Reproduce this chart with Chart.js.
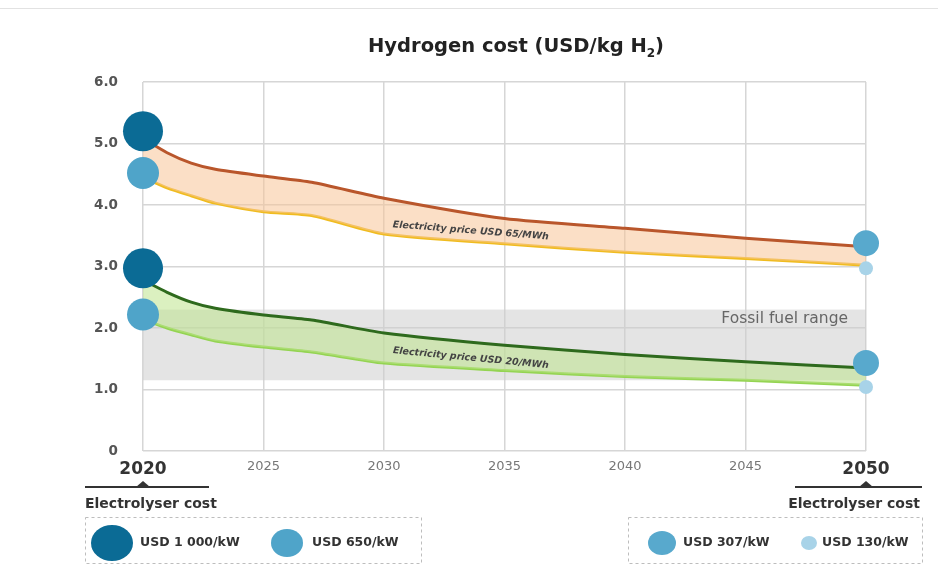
<!DOCTYPE html>
<html>
<head>
<meta charset="utf-8">
<script src="https://cdn.jsdelivr.net/npm/chart.js@4.4.0/dist/chart.umd.min.js"></script>
<style>
  html, body { margin: 0; padding: 0; background: #fff; }
  #wrap { width: 938px; height: 567px; position: relative; }
</style>
</head>
<body>
<div id="wrap"><canvas id="chart-h2" width="938" height="567"></canvas></div>
<script>
// years on the x axis
const years = [2020, 2021, 2022, 2023, 2025, 2027, 2030, 2035, 2040, 2045, 2050];

// USD 65/MWh electricity
const high65 = [5.08, 4.85, 4.68, 4.58, 4.47, 4.37, 4.11, 3.78, 3.62, 3.46, 3.32];
const low65  = [4.45, 4.28, 4.15, 4.03, 3.89, 3.83, 3.53, 3.37, 3.23, 3.13, 3.02];

// USD 20/MWh electricity
const high20 = [2.78, 2.58, 2.42, 2.32, 2.21, 2.13, 1.92, 1.72, 1.57, 1.45, 1.35];
const low20  = [2.14, 2.00, 1.89, 1.79, 1.69, 1.61, 1.43, 1.31, 1.21, 1.15, 1.07];

// electrolyser cost markers (x = year, y = cost)
const mark1000 = [{ x: 2020, y: 5.2 }, { x: 2020, y: 2.97 }];
const mark650  = [{ x: 2020, y: 4.52 }, { x: 2020, y: 2.22 }];
const mark307  = [{ x: 2050, y: 3.38 }, { x: 2050, y: 1.43 }];
const mark130  = [{ x: 2050, y: 2.97 }, { x: 2050, y: 1.04 }];

const fossilRange = [1.15, 2.3];
const yTicks = [0, 1, 2, 3, 4, 5, 6];
const xTicks = [2020, 2025, 2030, 2035, 2040, 2045, 2050];

const FONT = "'DejaVu Sans', 'Open Sans', sans-serif";

function pts(vals) {
  return years.map((y, i) => ({ x: y, y: vals[i] }));
}

// fossil band + line labels + title + bottom legends
const decorPlugin = {
  id: 'decor',
  beforeDatasetsDraw(chart) {
    const { ctx, scales: { x, y } } = chart;
    const top = y.getPixelForValue(fossilRange[1]);
    const bot = y.getPixelForValue(fossilRange[0]);
    ctx.save();
    ctx.fillStyle = 'rgba(205,205,205,0.55)';
    ctx.fillRect(x.getPixelForValue(2020), top, x.getPixelForValue(2050) - x.getPixelForValue(2020), bot - top);
    ctx.fillStyle = '#666';
    ctx.font = '15.5px ' + FONT;
    ctx.textAlign = 'right';
    ctx.textBaseline = 'middle';
    ctx.fillText('Fossil fuel range', x.getPixelForValue(2050) - 18, y.getPixelForValue(2.15));
    ctx.restore();
  },
  afterDatasetsDraw(chart) {
    const { ctx, scales: { x, y } } = chart;
    [[3.58, 4.5, 'Electricity price USD 65/MWh'], [1.51, 5.5, 'Electricity price USD 20/MWh']].forEach(([v, deg, txt]) => {
      ctx.save();
      ctx.fillStyle = '#444';
      ctx.font = 'italic bold 9.5px ' + FONT;
      ctx.textAlign = 'center';
      ctx.textBaseline = 'middle';
      ctx.translate(x.getPixelForValue(2033.6), y.getPixelForValue(v));
      ctx.rotate(deg * Math.PI / 180);
      ctx.fillText(txt, 0, 0);
      ctx.restore();
    });
  },
  afterDraw(chart) {
    const { ctx, scales: { x } } = chart;
    ctx.save();
    // faint frame line at top
    ctx.strokeStyle = '#e2e2e2';
    ctx.lineWidth = 1;
    ctx.beginPath(); ctx.moveTo(0, 8.5); ctx.lineTo(938, 8.5); ctx.stroke();

    // title
    ctx.fillStyle = '#222';
    ctx.textAlign = 'left';
    ctx.textBaseline = 'middle';
    const big = 'bold 19.5px ' + FONT, small = 'bold 12px ' + FONT;
    const t1 = 'Hydrogen cost (USD/kg H';
    ctx.font = big; const w1 = ctx.measureText(t1).width; const w3 = ctx.measureText(')').width;
    ctx.font = small; const w2 = ctx.measureText('2').width;
    const tx = 516 - (w1 + w2 + w3) / 2;
    ctx.font = big; ctx.fillText(t1, tx, 47);
    ctx.font = small; ctx.fillText('2', tx + w1, 54);
    ctx.font = big; ctx.fillText(')', tx + w1 + w2, 47);

    // bracket lines with triangles
    const x20 = x.getPixelForValue(2020);
    const x50 = x.getPixelForValue(2050);
    ctx.strokeStyle = '#333';
    ctx.fillStyle = '#333';
    ctx.lineWidth = 2;
    [[85, 209, x20], [795, 922, x50]].forEach(([a, b, c]) => {
      ctx.beginPath(); ctx.moveTo(a, 487); ctx.lineTo(b, 487); ctx.stroke();
      ctx.beginPath(); ctx.moveTo(c - 7, 487); ctx.lineTo(c, 481); ctx.lineTo(c + 7, 487); ctx.closePath(); ctx.fill();
    });

    ctx.font = 'bold 14px ' + FONT;
    ctx.textBaseline = 'middle';
    ctx.textAlign = 'left';
    ctx.fillText('Electrolyser cost', 85, 504);
    ctx.textAlign = 'right';
    ctx.fillText('Electrolyser cost', 920, 504);

    // dashed legend boxes
    ctx.strokeStyle = '#bdbdbd';
    ctx.lineWidth = 1;
    ctx.setLineDash([3, 3]);
    ctx.strokeRect(85.5, 517.5, 336, 46);
    ctx.strokeRect(628.5, 517.5, 294, 46);
    ctx.setLineDash([]);

    const items = [
      [112, 21, 18, '#0b6b95', 'USD 1 000/kW', 140],
      [287, 16, 14, '#4fa4c9', 'USD 650/kW', 312],
      [662, 14, 12, '#58a9cd', 'USD 307/kW', 683],
      [809, 8, 7, '#a8d3e8', 'USD 130/kW', 822]
    ];
    ctx.font = 'bold 12.5px ' + FONT;
    ctx.textAlign = 'left';
    items.forEach(([cx, rx, ry, col, label, lx]) => {
      ctx.fillStyle = col;
      ctx.beginPath(); ctx.ellipse(cx, 543, rx, ry, 0, 0, Math.PI * 2); ctx.fill();
      ctx.fillStyle = '#333';
      ctx.fillText(label, lx, 543);
    });
    ctx.restore();
  }
};

function lineSet(label, vals, color, fill, fillColor) {
  return {
    type: 'line',
    label,
    data: pts(vals),
    borderColor: color,
    borderWidth: 3,
    pointRadius: 0,
    tension: 0.22,
    fill: fill,
    backgroundColor: fillColor,
    clip: false
  };
}

function markSet(label, data, color, radius) {
  return {
    type: 'scatter',
    label,
    data,
    backgroundColor: color,
    borderWidth: 0,
    pointRadius: radius,
    pointHoverRadius: radius,
    clip: false
  };
}

const myChart = new Chart(document.getElementById('chart-h2'), {
  data: {
    datasets: [
      markSet('USD 1 000/kW', mark1000, '#0b6b95', 20),
      markSet('USD 650/kW', mark650, '#4fa4c9', 16),
      markSet('USD 307/kW', mark307, '#58a9cd', 13),
      markSet('USD 130/kW', mark130, '#a8d3e8', 7),
      lineSet('65 high', high65, '#b9562b', '+1', 'rgba(247,196,152,0.55)'),
      lineSet('65 low', low65, '#f0bc1f', false, 'transparent'),
      lineSet('20 high', high20, '#2e6a1d', '+1', 'rgba(190,228,140,0.55)'),
      lineSet('20 low', low20, '#94d452', false, 'transparent')
    ]
  },
  options: {
    responsive: false,
    animation: false,
    layout: { padding: { top: 82, right: 72, left: 0, bottom: 0 } },
    plugins: {
      legend: { display: false },
      tooltip: { enabled: false },
      title: { display: false }
    },
    scales: {
      x: {
        type: 'linear',
        min: 2020,
        max: 2050,
        afterFit: (s) => { s.height = 116; },
        afterBuildTicks: (s) => { s.ticks = xTicks.map(v => ({ value: v })); },
        grid: { color: '#d6d6d6', lineWidth: 1.5, drawTicks: false },
        border: { display: false },
        ticks: {
          padding: 8,
          maxRotation: 0,
          callback: (v) => String(v),
          color: (c) => (c.tick && (c.tick.value === 2020 || c.tick.value === 2050)) ? '#333' : '#777',
          font: (c) => (c.tick && (c.tick.value === 2020 || c.tick.value === 2050))
            ? { family: FONT, size: 17, weight: 'bold' }
            : { family: FONT, size: 13 }
        }
      },
      y: {
        min: 0,
        max: 6,
        afterFit: (s) => { s.width = 143; },
        afterBuildTicks: (s) => { s.ticks = yTicks.map(v => ({ value: v })); },
        grid: { color: '#d6d6d6', lineWidth: 1.5, drawTicks: false },
        border: { display: false },
        ticks: {
          padding: 25,
          color: '#555',
          font: { family: FONT, size: 13.5, weight: 'bold' },
          callback: (v) => v === 0 ? '0' : v.toFixed(1)
        }
      }
    }
  },
  plugins: [decorPlugin]
});
</script>
</body>
</html>
